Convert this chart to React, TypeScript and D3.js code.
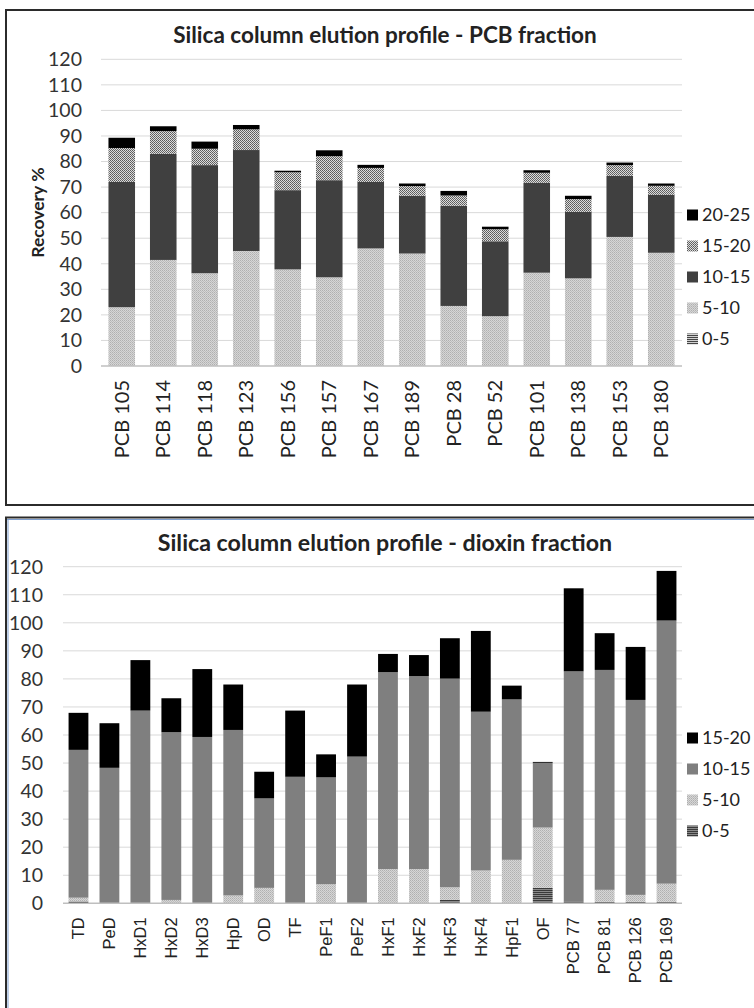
import * as d3 from "d3";

// ---- PCB fraction (top chart) ----
const pcbCategories = ["PCB 105", "PCB 114", "PCB 118", "PCB 123", "PCB 156", "PCB 157", "PCB 167", "PCB 189", "PCB 28", "PCB 52", "PCB 101", "PCB 138", "PCB 153", "PCB 180"];
const pcb0to5 = [0, 0, 0, 0, 0, 0, 0, 0, 0, 0, 0, 0, 0, 0];
const pcb5to10 = [23, 41.5, 36.3, 45, 37.8, 34.7, 46, 44, 23.5, 19.5, 36.5, 34.3, 50.5, 44.3];
const pcb10to15 = [49, 41.5, 42.3, 39.5, 31, 38, 26, 22.6, 39.2, 29.3, 35.2, 26, 23.9, 22.7];
const pcb15to20 = [13.3, 8.9, 6.4, 8.1, 7, 9.4, 5.5, 3.8, 4, 4.7, 3.9, 5, 4.2, 3.5];
const pcb20to25 = [4, 1.9, 2.8, 1.7, 0.6, 2.3, 1.2, 1, 1.8, 1, 1, 1.3, 1, 0.9];

// ---- dioxin fraction (bottom chart) ----
const dioxinCategories = ["TD", "PeD", "HxD1", "HxD2", "HxD3", "HpD", "OD", "TF", "PeF1", "PeF2", "HxF1", "HxF2", "HxF3", "HxF4", "HpF1", "OF", "PCB 77", "PCB 81", "PCB 126", "PCB 169"];
const dx0to5 = [0.7, 0, 0, 0, 0, 0, 0, 0, 0, 0, 0, 0, 1.2, 0, 0, 5.5, 0.5, 0.5, 0.5, 0.5];
const dx5to10 = [1.3, 0, 0, 1.2, 0, 2.8, 5.5, 0, 6.8, 0, 12.2, 12.2, 4.5, 11.7, 15.5, 21.5, 0, 4.3, 2.5, 6.5];
const dx10to15 = [52.7, 48.3, 68.7, 59.8, 59.3, 59, 31.9, 45.1, 38.1, 52.3, 70.2, 68.8, 74.4, 56.6, 57.2, 23.1, 82.2, 78.4, 69.5, 93.8];
const dx15to20 = [13.2, 15.9, 18, 12.1, 24.2, 16.2, 9.5, 23.6, 8.2, 25.7, 6.5, 7.5, 14.4, 28.8, 4.9, 0.3, 29.6, 13.1, 18.9, 17.7];

const yTicks = [0, 10, 20, 30, 40, 50, 60, 70, 80, 90, 100, 110, 120];

const FONT = "Lato, sans-serif";

type Series = { name: string; values: number[]; fill: string };

type ChartProps = {
  title: string;
  titleY: number;
  titleSize: number;
  categories: string[];
  series: Series[];
  left: number;
  right: number;
  top: number;
  bottom: number;
  tickX: number;
  yTitle?: string;
  labelFont: string;
  labelSize: number;
  legendY: number;
};

function StackedChart(p: ChartProps) {
  const x = d3.scaleBand().domain(p.categories).range([p.left, p.right]).paddingInner(0.36).paddingOuter(0.18);
  const y = d3.scaleLinear().domain([0, 120]).range([p.bottom, p.top]);

  const rows = p.categories.map((c, i) => {
    const r: any = { cat: c };
    p.series.forEach(s => (r[s.name] = s.values[i]));
    return r;
  });
  const stacked = d3.stack().keys(p.series.map(s => s.name))(rows);
  const legend = [...p.series].reverse();

  return (
    <g>
      <text x={385} y={p.titleY} textAnchor="middle" fontFamily={FONT} fontWeight="bold" fontSize={p.titleSize} fill="#222">{p.title}</text>
      {yTicks.map(t => (
        <g key={t}>
          {t > 0 && <line x1={p.left} x2={p.right} y1={y(t)} y2={y(t)} stroke="#d9d9d9" strokeWidth={1} />}
          <text x={p.tickX} y={y(t)} dy="0.35em" textAnchor="end" fontFamily={FONT} fontSize={19.5} fill="#333">{t}</text>
        </g>
      ))}
      {stacked.map((layer, li) => (
        <g key={layer.key} fill={p.series[li].fill}>
          {layer.map((d, i) => d[1] - d[0] > 0 ? (
            <rect key={i} x={x(p.categories[i])} width={x.bandwidth()} y={y(d[1])} height={y(d[0]) - y(d[1])} />
          ) : null)}
        </g>
      ))}
      <line x1={p.left} x2={p.right} y1={p.bottom} y2={p.bottom} stroke="#bfbfbf" strokeWidth={1.5} />
      {p.categories.map(c => (
        <text key={c} transform={`translate(${x(c)! + x.bandwidth() / 2},${p.bottom + 14}) rotate(-90)`} dy="0.35em" textAnchor="end"
          fontFamily={p.labelFont} fontSize={p.labelSize} fill="#222">{c}</text>
      ))}
      {p.yTitle && (
        <text transform={`translate(38,${(p.top + p.bottom) / 2}) rotate(-90)`} textAnchor="middle" dy="0.35em"
          fontFamily={FONT} fontWeight="bold" fontSize={17.5} fill="#222">{p.yTitle}</text>
      )}
      {legend.map((s, i) => (
        <g key={s.name} transform={`translate(687,${p.legendY + i * 31})`}>
          <rect x={0} y={-5.5} width={11} height={11} fill={s.fill} />
          <text x={15} dy="0.35em" fontFamily={FONT} fontSize={18} fill="#222">{s.name}</text>
        </g>
      ))}
    </g>
  );
}

export default function App() {
  const topSeries: Series[] = [
    { name: "0-5", values: pcb0to5, fill: "url(#stripes)" },
    { name: "5-10", values: pcb5to10, fill: "url(#lightDots)" },
    { name: "10-15", values: pcb10to15, fill: "#404040" },
    { name: "15-20", values: pcb15to20, fill: "url(#midDots)" },
    { name: "20-25", values: pcb20to25, fill: "#000" },
  ];
  const bottomSeries: Series[] = [
    { name: "0-5", values: dx0to5, fill: "url(#stripes2)" },
    { name: "5-10", values: dx5to10, fill: "url(#lightDots)" },
    { name: "10-15", values: dx10to15, fill: "#7f7f7f" },
    { name: "15-20", values: dx15to20, fill: "#000" },
  ];

  return (
    <svg width={754} height={1008} style={{ position: "absolute", left: 0, top: 0, background: "#fff" }}>
      <defs>
        <pattern id="lightDots" width={2} height={2} patternUnits="userSpaceOnUse">
          <rect width={2} height={2} fill="#d6d6d6" />
          <rect width={1} height={1} fill="#b0b0b0" />
          <rect x={1} y={1} width={1} height={1} fill="#bdbdbd" />
        </pattern>
        <pattern id="midDots" width={2} height={2} patternUnits="userSpaceOnUse">
          <rect width={2} height={2} fill="#dcdcdc" />
          <rect width={1} height={1} fill="#5a5a5a" />
          <rect x={1} y={1} width={1} height={1} fill="#6a6a6a" />
        </pattern>
        <pattern id="stripes" width={4} height={2} patternUnits="userSpaceOnUse">
          <rect width={4} height={2} fill="#d0d0d0" />
          <rect width={4} height={1} fill="#444" />
        </pattern>
        <pattern id="stripes2" width={4} height={2} patternUnits="userSpaceOnUse">
          <rect width={4} height={2} fill="#8a8a8a" />
          <rect width={4} height={1} fill="#3a3a3a" />
        </pattern>
      </defs>

      <rect x={6} y={10} width={760} height={495} fill="#fff" stroke="#2b2b2b" strokeWidth={2} />
      <rect x={6} y={517.5} width={760} height={500} fill="#fff" stroke="#2b2b2b" strokeWidth={2} />
      <line x1={7} x2={760} y1={519.5} y2={519.5} stroke="#7f9fcf" strokeWidth={1.2} />
      <line x1={8} x2={8} y1={519} y2={1008} stroke="#7f9fcf" strokeWidth={1} />

      <StackedChart title="Silica column elution profile - PCB fraction" titleY={43} titleSize={22.5} categories={pcbCategories} series={topSeries}
        left={101} right={682} top={59.3} bottom={366} tickX={82} yTitle="Recovery %" labelFont={FONT} labelSize={20} legendY={215} />
      <StackedChart title="Silica column elution profile - dioxin fraction" titleY={551} titleSize={23.2} categories={dioxinCategories} series={bottomSeries}
        left={63} right={682} top={566.7} bottom={903.3} tickX={43} labelFont="'Liberation Sans', Arial, sans-serif" labelSize={16.5} legendY={738} />
    </svg>
  );
}
